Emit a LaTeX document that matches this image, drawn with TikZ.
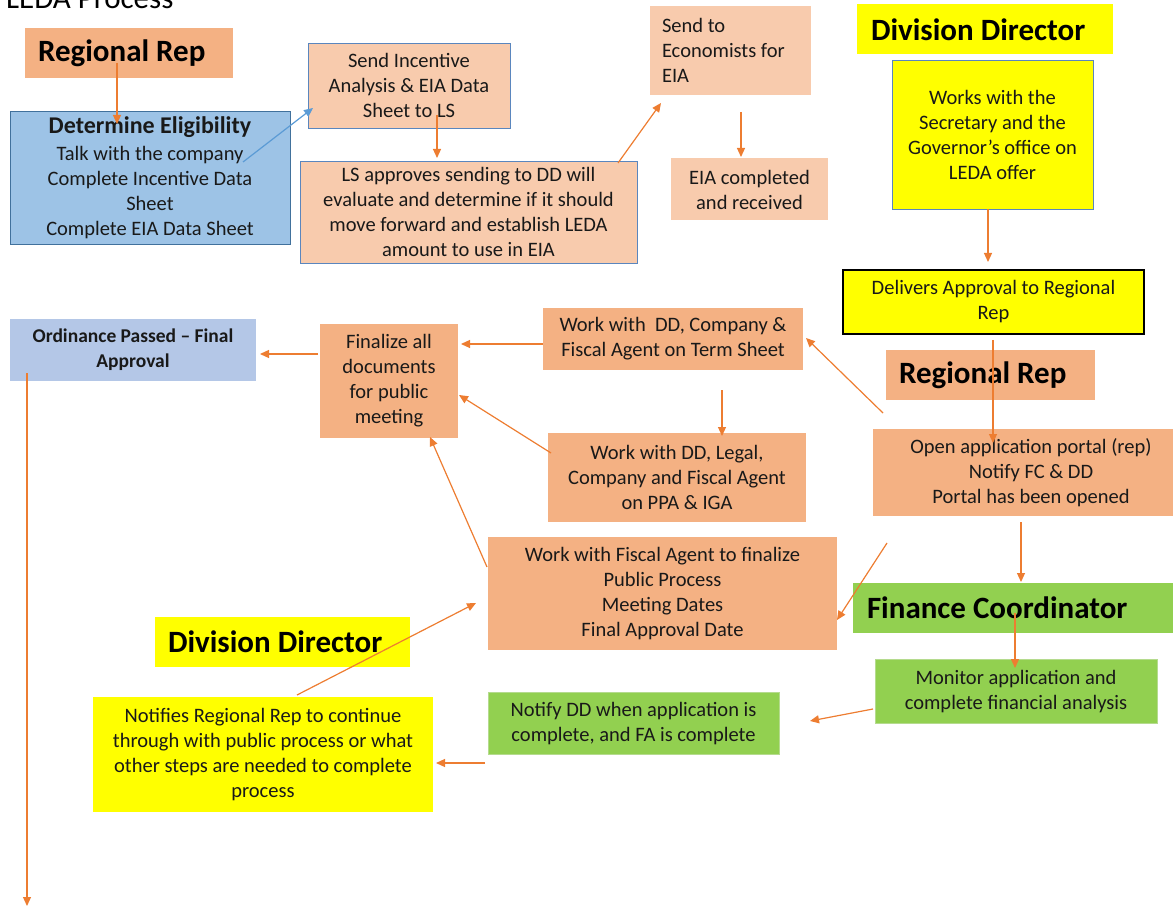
\documentclass[tikz,border=0pt]{standalone}
\usepackage{fontspec}
\setmainfont{Carlito}
\usetikzlibrary{arrows.meta, calc}

\definecolor{repfill}{HTML}{F4B183}
\definecolor{lightfill}{HTML}{F8CBAD}
\definecolor{eligfill}{HTML}{9DC3E6}
\definecolor{eligline}{HTML}{41719C}
\definecolor{boxline}{HTML}{5A86BE}
\definecolor{ordfill}{HTML}{B4C7E7}
\definecolor{ddfill}{HTML}{FFFF00}
\definecolor{fcfill}{HTML}{92D050}
\definecolor{fcline}{HTML}{B5DB8E}
\definecolor{arrowline}{HTML}{ED7D31}
\definecolor{blueline}{HTML}{5B9BD5}

\begin{document}
\begin{tikzpicture}[x=1pt, y=-1pt,
  txt/.style={font=\fontsize{20.5}{25}\selectfont, align=center, text=black!90},
  wh/.style 2 args={minimum width=#1pt, minimum height=#2pt},
  head/.style={font=\bfseries\fontsize{31}{36}\selectfont, align=flush left, text=black, inner xsep=13pt, minimum height=50pt},
  task/.style={txt, fill=repfill},
  soft/.style={txt, fill=lightfill, draw=boxline, line width=0.8pt},
  arrow/.style={-{Triangle[length=9pt,width=8pt]}, arrowline, line width=1.2pt}
]
\useasboundingbox (0,0) rectangle (1173,909);

\node[anchor=base west, font=\fontsize{31}{36}\selectfont, inner sep=0pt] (title) at (6,9) {LEDA Process};

% eligibility and data sheets
\node[head, fill=repfill, text width=182pt] (rrA) at (129,53) {Regional Rep};
\node[txt, fill=eligfill, draw=eligline, line width=0.8pt, wh={280}{133}] (elig) at (150,177.5)
  {{\bfseries\fontsize{24}{27}\selectfont Determine Eligibility}\\[2pt]Talk with the company\\Complete Incentive Data\\Sheet\\Complete EIA Data Sheet};
\node[soft, wh={202}{85}] (sendls) at (409,85.5) {Send Incentive\\Analysis \& EIA Data\\Sheet to LS};
\node[soft, wh={337}{102}] (lsok) at (468.5,212) {LS approves sending to DD will\\evaluate and determine if it should\\move forward and establish LEDA\\amount to use in EIA};
\node[txt, fill=lightfill, align=flush left, text width=137pt, inner xsep=12pt, minimum height=89pt] (econ) at (730.5,50.5) {Send to\\Economists for\\EIA};
\node[txt, fill=lightfill, wh={157}{62}] (eiadone) at (749.5,189.5) {EIA completed\\and received};

% division director
\node[head, fill=ddfill, text width=228pt, inner xsep=14pt] (ddA) at (985,29.5) {Division Director};
\node[txt, fill=ddfill, draw=boxline, line width=0.8pt, wh={201}{149}] (works) at (992.5,134.5) {Works with the\\Secretary and the\\Governor’s office on\\LEDA offer};
\node[txt, fill=ddfill, draw=black, line width=1.2pt, wh={301}{64}] (deliv) at (993.5,302) {Delivers Approval to Regional\\Rep};

% public process
\node[txt, fill=ordfill, font=\bfseries\fontsize{19.5}{25}\selectfont, wh={246}{62}] (ord) at (133,350) {Ordinance Passed – Final\\Approval};
\node[task, wh={138}{114}] (final) at (389,381) {Finalize all\\documents\\for public\\meeting};
\node[task, wh={260}{62}] (term) at (673,339) {Work with~ DD, Company \&\\Fiscal Agent on Term Sheet};
\node[head, fill=repfill, text width=183pt] (rrB) at (990.5,375) {Regional Rep};
\node[task, wh={258}{89}] (legal) at (677,477.5) {Work with DD, Legal,\\Company and Fiscal Agent\\on PPA \& IGA};
\node[task, wh={316}{87}] (portal) at (1031,472.5) {Open application portal (rep)\\Notify FC \& DD\\Portal has been opened};
\node[task, wh={349}{113}] (fiscal) at (662.5,593.5) {Work with Fiscal Agent to finalize\\Public Process\\Meeting Dates\\Final Approval Date};

% finance coordinator
\node[head, fill=fcfill, text width=292pt, inner xsep=14pt] (fc) at (1013,607.5) {Finance Coordinator};
\node[txt, fill=fcfill, draw=fcline, wh={282}{64}] (monitor) at (1016,691.5) {Monitor application and\\complete financial analysis};
\node[txt, fill=fcfill, draw=fcline, wh={291}{62}] (notify) at (633.5,723.5) {Notify DD when application is\\complete, and FA is complete};
\node[head, fill=ddfill, text width=229pt] (ddB) at (282.5,641.5) {Division Director};
\node[txt, fill=ddfill, wh={340}{115}] (notifies) at (263,754.5) {Notifies Regional Rep to continue\\through with public process or what\\other steps are needed to complete\\process};

\coordinate (down) at (27,906);

\draw[arrow] ($(rrA)+(-12,10)$) -- ($(elig)+(-33,-53.5)$);
\draw[arrow, blueline] ($(elig)+(93,-15.5)$) -- ($(sendls)+(-96,22.5)$);
\draw[arrow] ($(sendls)+(28,29.5)$) -- ($(lsok)+(-31.5,-54)$);
\draw[arrow] ($(lsok)+(149.5,-49)$) -- ($(econ)+(-69.5,52.5)$);
\draw[arrow] ($(econ)+(10.5,61.5)$) -- ($(eiadone)+(-8.5,-32.5)$);
\draw[arrow] ($(works)+(-4.5,74.5)$) -- ($(deliv)+(-5.5,-40)$);
\draw[arrow] ($(deliv)+(-0.5,38)$) -- ($(portal)+(-38,-29.5)$);
\draw[arrow] ($(portal)+(-148,-59.5)$) -- ($(term)+(133,-1)$);
\draw[arrow] ($(term)+(-130,5)$) -- ($(final)+(72,-37)$);
\draw[arrow] ($(final)+(-71,-27)$) -- ($(ord)+(127,4)$);
\draw[arrow] ($(term)+(49,51)$) -- ($(legal)+(45,-41.5)$);
\draw[arrow] ($(legal)+(-126,-24.5)$) -- ($(final)+(70,14)$);
\draw[arrow] ($(fiscal)+(-175.5,-26.5)$) -- ($(final)+(41,56)$);
\draw[arrow] ($(portal)+(-144,70.5)$) -- ($(fiscal)+(174.5,26.5)$);
\draw[arrow] ($(portal)+(-10,49.5)$) -- ($(fc)+(8,-25.5)$);
\draw[arrow] ($(fc)+(2,5.5)$) -- ($(monitor)+(-1,-23.5)$);
\draw[arrow] ($(monitor)+(-143,17.5)$) -- ($(notify)+(176.5,-2.5)$);
\draw[arrow] ($(notify)+(-148.5,39.5)$) -- ($(notifies)+(173,8.5)$);
\draw[arrow] ($(notifies)+(34,-59.5)$) -- ($(fiscal)+(-186.5,9.5)$);
\draw[arrow] ($(ord)+(-106,23)$) -- (down);
\end{tikzpicture}
\end{document}
